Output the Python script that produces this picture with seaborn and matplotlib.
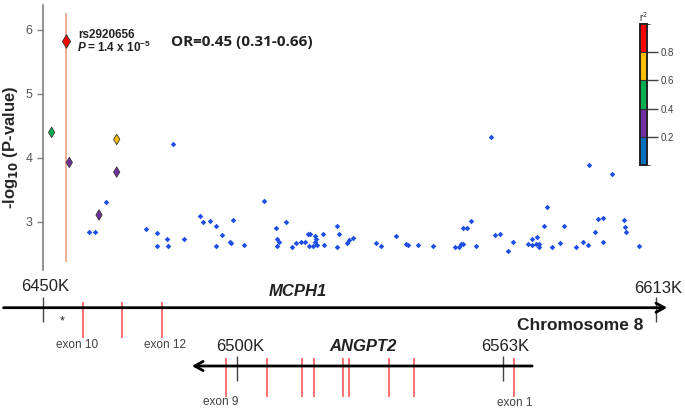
import numpy as np
import pandas as pd
import matplotlib
matplotlib.use("Agg")
import matplotlib.pyplot as plt
import matplotlib.cm as cm
from matplotlib.colors import ListedColormap, BoundaryNorm
import seaborn as sns

# ---------------------------------------------------------
# Data (positions in kb on chromosome 8, values as -log10 P)
# ---------------------------------------------------------
lead_kb = [6456.0]
lead_logp = [5.82]

ld_kb = [6452.3, 6457.0, 6469.6, 6469.6, 6464.9]
ld_logp = [4.40, 3.93, 4.29, 3.78, 3.11]
ld_r2 = [0.5, 0.3, 0.7, 0.3, 0.3]

other_kb = [
    6462.2, 6463.8, 6466.8, 6477.4, 6480.4, 6480.4, 6482.9, 6483.3, 6484.5, 6487.4,
    6491.8, 6492.5, 6494.5, 6496.0, 6496.0, 6497.6, 6499.7, 6500.1, 6500.5, 6503.5,
    6508.7, 6511.9, 6512.2, 6512.3, 6512.7, 6514.6, 6516.2, 6517.3, 6518.6, 6519.8,
    6520.6, 6520.8, 6521.0, 6521.9, 6522.3, 6522.3, 6522.6, 6522.8, 6524.4, 6524.7,
    6528.3, 6528.3, 6528.8, 6530.8, 6531.5, 6532.4, 6538.6, 6539.9, 6543.8, 6546.5,
    6547.0, 6549.7, 6553.7, 6559.5, 6560.6, 6561.1, 6561.6, 6561.6, 6562.7, 6563.9,
    6565.2, 6569.1, 6570.1, 6571.5, 6573.8, 6575.0, 6578.9, 6580.0, 6580.1, 6581.1,
    6581.3, 6581.9, 6582.0, 6583.3, 6584.0, 6585.3, 6587.4, 6588.6, 6591.7, 6593.5,
    6594.9, 6595.1, 6596.7, 6597.5, 6598.9, 6598.9, 6601.3, 6604.4, 6604.7, 6605.0,
    6608.4,
]
other_logp = [
    2.85, 2.84, 3.32, 2.89, 2.83, 2.625, 2.73, 2.625, 4.22, 2.74,
    3.09, 3.00, 3.02, 2.93, 2.625, 2.79, 2.69, 2.67, 3.03, 2.64,
    3.33, 2.90, 2.73, 2.625, 2.68, 3.00, 2.61, 2.67, 2.68, 2.68,
    2.82, 2.625, 2.81, 2.625, 2.78, 2.68, 2.73, 2.64, 2.82, 2.64,
    2.93, 2.61, 2.82, 2.67, 2.72, 2.75, 2.67, 2.625, 2.78, 2.65,
    2.64, 2.64, 2.63, 2.61, 2.61, 2.65, 2.66, 2.91, 2.91, 3.02,
    2.62, 4.33, 2.80, 2.82, 2.55, 2.68, 2.66, 2.73, 2.64, 2.66,
    2.76, 2.61, 2.65, 2.93, 3.24, 2.61, 2.67, 2.93, 2.61, 2.68,
    2.64, 3.89, 2.84, 3.05, 3.07, 2.68, 3.75, 3.03, 2.92, 2.84,
    2.62,
]

r2_bounds = [0.0, 0.2, 0.4, 0.6, 0.8, 1.0]
r2_colors = ["#0070c0", "#7030a0", "#00b050", "#ffc000", "#ff0000"]
r2_ticks = [0.2, 0.4, 0.6, 0.8]

# gene track
mcph1_exon_kb = [6460.6, 6471.0, 6481.6]
angpt2_exon_kb = [6498.7, 6509.6, 6519.0, 6522.1, 6529.9, 6531.5, 6541.9, 6548.7, 6575.3]
snp_star_kb = 6455.2

# ---------------------------------------------------------
# Style
# ---------------------------------------------------------
sns.set_style("white")
plt.rcParams["font.family"] = ["Liberation Sans", "DejaVu Sans"]

fig = plt.figure(figsize=(6.85, 4.09), dpi=100)

W, H = 685.0, 409.0
KB_PX = 3.76  # pixels per kb


def px_to_kb(px):
    return 6450 + (px - 43) / KB_PX


ax = fig.add_axes([43 / W, 1 - 270 / H, (670 - 43) / W, 265 / H])
ax.set_xlim(6450, px_to_kb(670))
ax.set_ylim(2.25, 6.39)

# lead SNP vertical line
ax.vlines(lead_kb, 2.375, 6.27, colors="#eba287", lw=1.2, zorder=1)

df_other = pd.DataFrame({"kb": other_kb, "logp": other_logp})
sns.scatterplot(data=df_other, x="kb", y="logp", ax=ax, marker="D", s=8,
                color="#1f4fe6", linewidth=0, zorder=3)

cmap = ListedColormap(r2_colors)
norm = BoundaryNorm(r2_bounds, cmap.N)

df_ld = pd.DataFrame({"kb": ld_kb, "logp": ld_logp, "r2": ld_r2})
df_ld["color"] = [cmap(norm(v)) for v in df_ld["r2"]]
ax.scatter(df_ld["kb"], df_ld["logp"], marker="d", s=28, c=list(df_ld["color"]),
           edgecolors="#333333", linewidths=0.6, zorder=4)
ax.scatter(lead_kb, lead_logp, marker="d", s=48, c="#ff0000",
           edgecolors="#333333", linewidths=0.6, zorder=5)

ax.set_xlabel("")
ax.set_ylabel(r"-log$_{\mathbf{10}}$ (P-value)", fontsize=12, fontweight="bold")
ax.yaxis.set_label_coords(-0.036, 0.464)
ax.set_yticks([3, 4, 5, 6])
ax.set_xticks([])
ax.tick_params(axis="y", direction="out", length=4.5, width=1, color="#808080",
               labelsize=9, labelcolor="#555555", pad=3, left=True)
for side in ["top", "right", "bottom"]:
    ax.spines[side].set_visible(False)
ax.spines["left"].set_color("#808080")
ax.spines["left"].set_linewidth(1.2)

# annotations
ax.text(6459.3, 5.92, "rs2920656", fontsize=8.5, fontweight="bold", color="#222222",
        va="center", ha="left")
ax.text(6459.3, 5.72, "P", fontsize=8.5, fontweight="bold", fontstyle="italic",
        color="#222222", va="center", ha="left")
ax.text(6461.6, 5.72, r"= 1.4 x 10$^{\mathregular{-5}}$", fontsize=8.5,
        fontweight="bold", color="#222222", va="center", ha="left")
ax.text(6484.0, 5.81, "OR=0.45 (0.31-0.66)", fontsize=11, fontweight="bold",
        color="#222222", va="center", ha="left", family=["Open Sans", "DejaVu Sans"])

# colorbar
cax = fig.add_axes([640 / W, 1 - 165 / H, 7 / W, 141 / H])
cb = fig.colorbar(cm.ScalarMappable(norm=norm, cmap=cmap), cax=cax,
                  ticks=r2_ticks, drawedges=True)
cb.outline.set_linewidth(1.4)
cb.outline.set_edgecolor("#222222")
cb.dividers.set_linewidth(0.8)
cb.dividers.set_color("#333333")
cax.set_yticklabels([f"{t:.1f}" for t in r2_ticks])
cax.tick_params(length=8, width=1, color="#404040", labelsize=7,
                labelcolor="#404040", pad=2, direction="out")
fig.text(643 / W, 1 - 17 / H, r"r$^2$", fontsize=7, color="#333333",
         ha="center", va="center")

# ---------------------------------------------------------
# Gene track
# ---------------------------------------------------------
gax = fig.add_axes([0, 0, 1, 139 / H])
gax.set_xlim(px_to_kb(0), px_to_kb(W))
gax.set_ylim(409, 270)
gax.axis("off")

MCPH1_Y = 307.7
ANGPT2_Y = 366.0

gax.annotate("", xy=(6616.0, MCPH1_Y), xytext=(6439.5, MCPH1_Y),
             arrowprops=dict(arrowstyle="->,head_length=0.6,head_width=0.33",
                             lw=2, color="black", shrinkA=0, shrinkB=0))
gax.annotate("", xy=(6489.6, ANGPT2_Y), xytext=(6580.1, ANGPT2_Y),
             arrowprops=dict(arrowstyle="->,head_length=0.6,head_width=0.33",
                             lw=2, color="black", shrinkA=0, shrinkB=0))

gax.vlines(mcph1_exon_kb, 302, 338, colors="#ff4a4a", lw=1.1)
gax.vlines(angpt2_exon_kb, 358, 397, colors="#ff4a4a", lw=1.1)
gax.vlines([6450, 6613], 297, 322, colors="#444444", lw=1)
gax.vlines([6501.6, 6572.3], 356, 381, colors="#444444", lw=1)

gax.text(6450.5, 287, "6450K", fontsize=12, color="#222222", ha="center", va="center")
gax.text(px_to_kb(298), 292, "MCPH1", fontsize=12, fontweight="bold",
         fontstyle="italic", color="#222222", ha="center", va="center")
gax.text(px_to_kb(658), 289, "6613K", fontsize=12, color="#222222",
         ha="center", va="center")
gax.text(px_to_kb(580), 326, "Chromosome 8", fontsize=12.5,
         fontweight="bold", color="#222222", ha="center", va="center")
gax.text(snp_star_kb, 321, "*", fontsize=9, color="#222222", ha="center", va="center")
gax.text(px_to_kb(77), 345, "exon 10", fontsize=8.5, color="#404040",
         ha="center", va="center")
gax.text(px_to_kb(165), 345, "exon 12", fontsize=8.5, color="#404040",
         ha="center", va="center")
gax.text(px_to_kb(240), 347, "6500K", fontsize=12, color="#222222",
         ha="center", va="center")
gax.text(px_to_kb(363), 347, "ANGPT2", fontsize=12, fontweight="bold",
         fontstyle="italic", color="#222222", ha="center", va="center")
gax.text(px_to_kb(505), 347, "6563K", fontsize=12, color="#222222",
         ha="center", va="center")
gax.text(px_to_kb(221), 402, "exon 9", fontsize=8.5, color="#404040",
         ha="center", va="center")
gax.text(px_to_kb(515), 403, "exon 1", fontsize=8.5, color="#404040",
         ha="center", va="center")

fig.savefig("out.png", dpi=100)
